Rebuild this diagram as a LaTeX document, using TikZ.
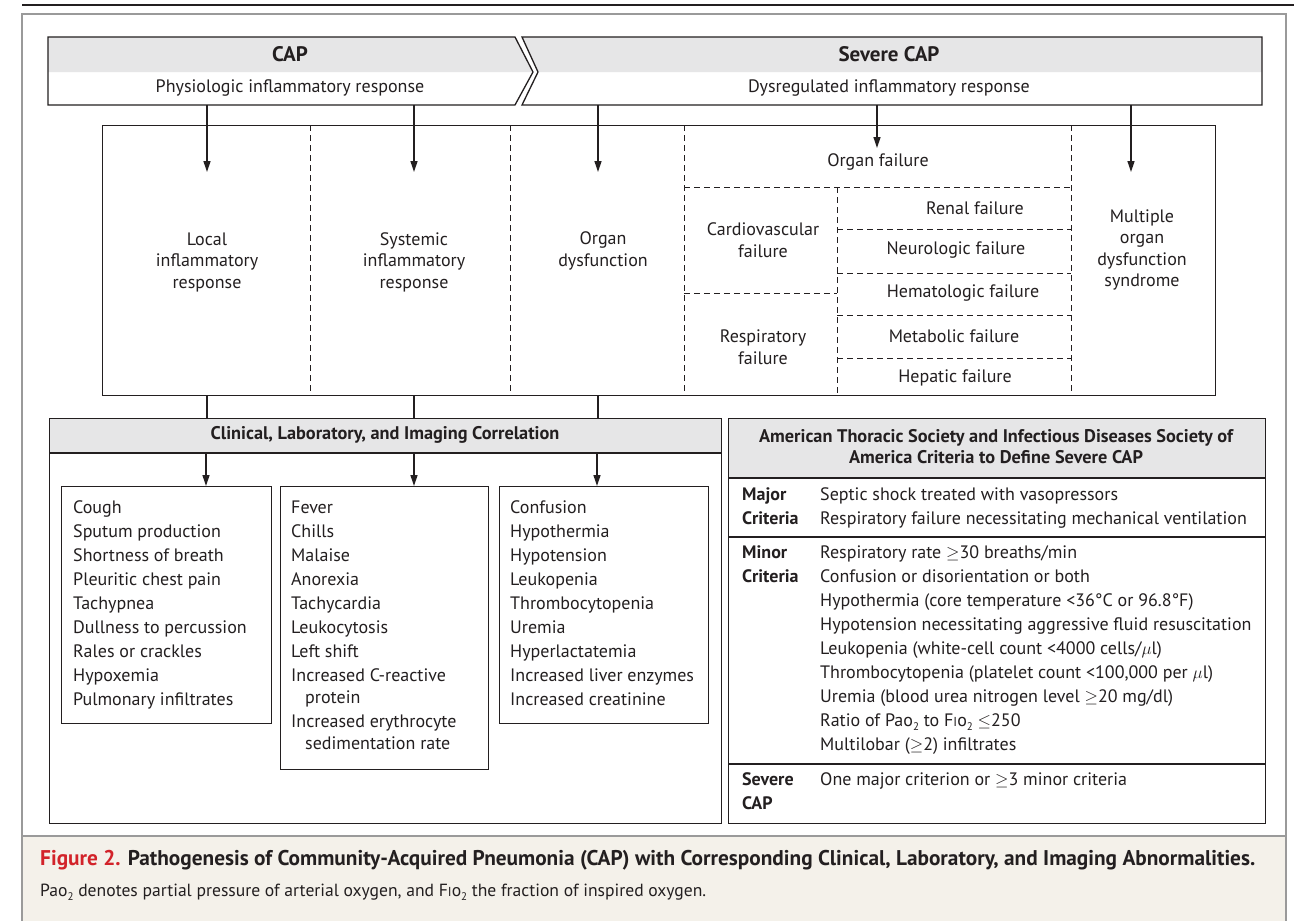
\documentclass[tikz,border=0pt]{standalone}
\usepackage{fontspec}
\setmainfont{PT Sans}
\usetikzlibrary{arrows.meta}
\definecolor{hdr}{HTML}{E6E6E7}
\definecolor{beige}{HTML}{F4F1EA}
\definecolor{nejmred}{HTML}{D2232A}
\definecolor{framec}{HTML}{9A9A9A}
\definecolor{ink}{HTML}{231F20}
\newcommand\subtwo{\raisebox{-4.5pt}{\fontsize{11}{11}\selectfont 2}}
\newcommand\Pao{Pao\subtwo}
\newcommand\Fio{F{\fontsize{13}{13}\selectfont I}o\subtwo}
\newcommand\itemlist[1]{\vtop{\baselineskip=24pt\lineskiplimit=-30pt\lineskip=0pt #1}}
\begin{document}
\begin{tikzpicture}[x=1pt,y=-1pt,
  font=\fontsize{18}{21.5}\selectfont, text=ink,
  boxline/.style={draw=ink, line width=1.3pt},
  dsh/.style={draw=ink, line width=1pt, dash pattern=on 6pt off 4pt},
  arr/.style={draw=ink, line width=1.3pt, -{Triangle[length=11pt,width=7pt]}},
  conn/.style={draw=ink, line width=1.3pt},
  txt/.style={align=center, inner sep=0pt},
  bighdr/.style={inner sep=0pt, font=\bfseries\fontsize{21}{24}\selectfont},
  boxhdr/.style={inner sep=0pt, align=center, font=\bfseries\fontsize{18.3}{21}\selectfont},
  lst/.style={anchor=base west, inner sep=0pt},
  lbl/.style={anchor=base west, inner sep=0pt, font=\bfseries\fontsize{18}{21}\selectfont},
  rect/.style={draw=ink, line width=1.3pt, anchor=north west, inner sep=0pt}
]
\useasboundingbox (0,0) rectangle (1294,921);
\fill[white] (0,0) rectangle (1294,921);
% frame and caption area
\fill[beige] (22,836) rectangle (1286,921);
\draw[framec, line width=1.3pt] (22,921) -- (22,14) -- (1286,14) -- (1286,921);
\draw[framec, line width=1.3pt] (22,836) -- (1286,836);
\draw[ink, line width=2pt] (22,5) -- (1294,5);

% banner
\fill[hdr] (48,37) -- (515,37) -- (533,72) -- (48,72) -- cycle;
\fill[hdr] (522,37) -- (1262,37) -- (1262,72) -- (538,72) -- cycle;
\draw[boxline] (48,37) -- (515,37) -- (533,72) -- (515,105) -- (48,105) -- cycle;
\draw[boxline] (522,37) -- (1262,37) -- (1262,105) -- (522,105) -- (538,72) -- cycle;
\node[bighdr, anchor=base] (cap) at (290,61) {CAP};
\node[txt] (phys) at (290,88) {Physiologic inflammatory response};
\node[bighdr, anchor=base] (sev) at (889,61) {Severe CAP};
\node[txt] (dys) at (889,88) {Dysregulated inflammatory response};

% inner box
\node[rect, minimum width=1113pt, minimum height=270pt] (inner) at (102,125) {};
\draw[dsh] (310,125) -- (310,395);
\draw[dsh] (510,125) -- (510,395);
\draw[dsh] (684,125) -- (684,395);
\draw[dsh] (1071,125) -- (1071,395);
\draw[dsh] (684,187) -- (1071,187);
\draw[dsh] (837,187) -- (837,395);
\draw[dsh] (684,293) -- (837,293);
\draw[dsh] (837,229) -- (1071,229);
\draw[dsh] (837,273) -- (1071,273);
\draw[dsh] (837,315) -- (1071,315);
\draw[dsh] (837,358) -- (1071,358);

\node[txt] (loc) at (207,262) {Local\\inflammatory\\response};
\node[txt] (sys) at (414,262) {Systemic\\inflammatory\\response};
\node[txt] (odys) at (603,251) {Organ\\dysfunction};
\node[txt] (ofail) at (878,162) {Organ failure};
\node[txt] (cardio) at (763,240) {Cardiovascular\\failure};
\node[txt] (resp) at (763,347) {Respiratory\\failure};
\node[txt] (renal) at (975,208) {Renal failure};
\node[txt] (neuro) at (956,250) {Neurologic failure};
\node[txt] (hema) at (963,293) {Hematologic failure};
\node[txt] (meta) at (954,336) {Metabolic failure};
\node[txt] (hepa) at (955,378) {Hepatic failure};
\node[txt] (mods) at (1142,250) {Multiple\\organ\\dysfunction\\syndrome};

% arrows from banner
\coordinate (s1) at (207,105); \coordinate (e1) at (207,172);
\coordinate (s2) at (414,105); \coordinate (e2) at (414,172);
\coordinate (s3) at (598,105); \coordinate (e3) at (598,172);
\coordinate (s4) at (877,105); \coordinate (e4) at (877,148);
\coordinate (s5) at (1131,105); \coordinate (e5) at (1131,172);
\draw[arr] (s1) -- (e1);
\draw[arr] (s2) -- (e2);
\draw[arr] (s3) -- (e3);
\draw[arr] (s4) -- (e4);
\draw[arr] (s5) -- (e5);

% clinical box
\fill[hdr] (49,418) rectangle (721,453);
\node[rect, minimum width=672pt, minimum height=405pt] (clin) at (49,418) {};
\draw[boxline] (49,453) -- (721,453);
\node[boxhdr] (clinh) at (385,435) {Clinical, Laboratory, and Imaging Correlation};

\coordinate (c1) at (207,395); \coordinate (d1) at (207,418);
\coordinate (c2) at (414,395); \coordinate (d2) at (414,418);
\coordinate (c3) at (598,395); \coordinate (d3) at (598,418);
\draw[conn] (c1) -- (d1);
\draw[conn] (c2) -- (d2);
\draw[conn] (c3) -- (d3);

\node[rect, minimum width=210pt, minimum height=237pt] (l1) at (61,486) {};
\node[rect, minimum width=208pt, minimum height=283pt] (l2) at (280,486) {};
\node[rect, minimum width=209pt, minimum height=237pt] (l3) at (499,486) {};

\coordinate (f1) at (206,453);
\coordinate (f2) at (414,453);
\coordinate (f3) at (597,453);
\draw[arr] (f1) -- (f1 |- l1.north);
\draw[arr] (f2) -- (f2 |- l2.north);
\draw[arr] (f3) -- (f3 |- l3.north);

\node[lst] (t1) at (73,513) {\itemlist{%
\hbox{Cough}\hbox{Sputum production}\hbox{Shortness of breath}\hbox{Pleuritic chest pain}%
\hbox{Tachypnea}\hbox{Dullness to percussion}\hbox{Rales or crackles}\hbox{Hypoxemia}%
\hbox{Pulmonary infiltrates}}};
\node[lst] (t2) at (291,513) {\itemlist{%
\hbox{Fever}\hbox{Chills}\hbox{Malaise}\hbox{Anorexia}\hbox{Tachycardia}\hbox{Leukocytosis}%
\hbox{Left shift}\hbox{Increased C-reactive}\vskip-2pt\hbox{\hspace{14pt}protein}%
\hbox{Increased erythrocyte}\vskip-2pt\hbox{\hspace{14pt}sedimentation rate}}};
\node[lst] (t3) at (510,513) {\itemlist{%
\hbox{Confusion}\hbox{Hypothermia}\hbox{Hypotension}\hbox{Leukopenia}\hbox{Thrombocytopenia}%
\hbox{Uremia}\hbox{Hyperlactatemia}\hbox{Increased liver enzymes}\hbox{Increased creatinine}}};

% ATS box
\fill[hdr] (728,418) rectangle (1265,478);
\node[rect, minimum width=537pt, minimum height=405pt] (ats) at (728,418) {};
\draw[boxline] (728,478) -- (1265,478);
\draw[boxline] (728,537) -- (1265,537);
\draw[boxline] (728,764) -- (1265,764);
\node[boxhdr] (atsh) at (996,447) {American Thoracic Society and Infectious Diseases Society of\\America Criteria to Define Severe CAP};

\node[lbl] (majl) at (742,500) {\itemlist{\hbox{Major}\hbox{Criteria}}};
\node[lst] (maji) at (820,500) {\itemlist{\hbox{Septic shock treated with vasopressors}%
\hbox{Respiratory failure necessitating mechanical ventilation}}};
\node[lbl] (minl) at (742,558) {\itemlist{\hbox{Minor}\hbox{Criteria}}};
\node[lst] (mini) at (820,558) {\itemlist{%
\hbox{Respiratory rate $\geq$30 breaths/min}%
\hbox{Confusion or disorientation or both}%
\hbox{Hypothermia (core temperature <36°C or 96.8°F)}%
\hbox{Hypotension necessitating aggressive fluid resuscitation}%
\hbox{Leukopenia (white-cell count <4000 cells/$\mu$l)}%
\hbox{Thrombocytopenia (platelet count <100,000 per $\mu$l)}%
\hbox{Uremia (blood urea nitrogen level $\geq$20 mg/dl)}%
\hbox{Ratio of \Pao{} to \Fio{} $\leq$250}%
\hbox{Multilobar ($\geq$2) infiltrates}}};
\node[lbl] (sevl) at (742,785) {\itemlist{\hbox{Severe}\hbox{CAP}}};
\node[lst] (sevi) at (820,785) {One major criterion or $\geq$3 minor criteria};

% caption
\node[anchor=base west, inner sep=0pt, font=\bfseries\fontsize{21.3}{24}\selectfont] (fig1) at (40,865)
  {\textcolor{nejmred}{Figure 2.} Pathogenesis of Community-Acquired Pneumonia (CAP) with Corresponding Clinical, Laboratory, and Imaging Abnormalities.};
\node[anchor=base west, inner sep=0pt, font=\fontsize{17.6}{21}\selectfont] (fig2) at (40,896)
  {\Pao{} denotes partial pressure of arterial oxygen, and \Fio{} the fraction of inspired oxygen.};
\end{tikzpicture}
\end{document}
